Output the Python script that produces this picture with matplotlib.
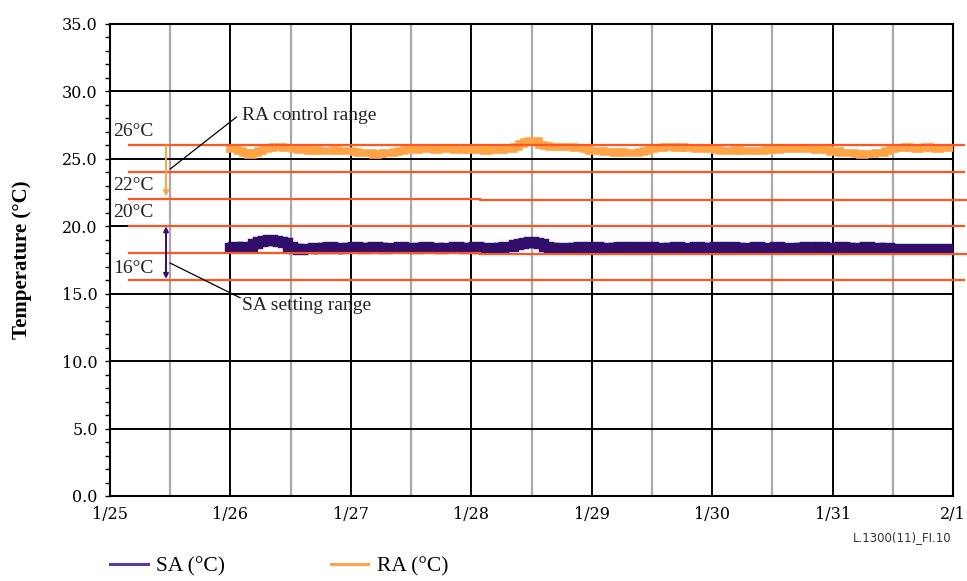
import numpy as np
import matplotlib
matplotlib.use("Agg")
import matplotlib.pyplot as plt
from matplotlib.lines import Line2D

# Day labels on the x axis (day 0 = 1/25)
day_labels = ["1/25", "1/26", "1/27", "1/28", "1/29", "1/30", "1/31", "2/1"]

# Logged temperatures, hourly from 1/26 00:00 to 2/1 00:00
sample_hours = np.arange(0, 145)

ra_temp = [
    25.70, 25.75, 25.60, 25.45, 25.30, 25.40, 25.55, 25.70, 25.80, 25.85, 25.85, 25.80,
    25.80, 25.75, 25.65, 25.70, 25.60, 25.65, 25.60, 25.55, 25.60, 25.65, 25.60, 25.60,
    25.55, 25.50, 25.45, 25.40, 25.40, 25.30, 25.35, 25.45, 25.40, 25.50, 25.60, 25.65,
    25.70, 25.65, 25.70, 25.75, 25.70, 25.65, 25.70, 25.75, 25.70, 25.65, 25.65, 25.70,
    25.65, 25.70, 25.65, 25.60, 25.65, 25.70, 25.65, 25.70, 25.70, 25.90, 26.10, 26.25,
    26.30, 26.35, 26.05, 25.95, 25.90, 25.85, 25.90, 25.85, 25.85, 25.80, 25.80, 25.75,
    25.60, 25.55, 25.55, 25.50, 25.50, 25.45, 25.50, 25.45, 25.45, 25.40, 25.50, 25.60,
    25.75, 25.80, 25.80, 25.85, 25.85, 25.80, 25.85, 25.80, 25.80, 25.75, 25.75, 25.70,
    25.70, 25.65, 25.60, 25.55, 25.60, 25.65, 25.60, 25.55, 25.60, 25.55, 25.60, 25.65,
    25.70, 25.65, 25.70, 25.75, 25.75, 25.70, 25.75, 25.70, 25.70, 25.65, 25.70, 25.65,
    25.50, 25.55, 25.45, 25.40, 25.40, 25.35, 25.30, 25.35, 25.35, 25.40, 25.45, 25.55,
    25.75, 25.80, 25.80, 25.85, 25.80, 25.75, 25.80, 25.85, 25.80, 25.75, 25.80, 25.80,
    25.80,
]

sa_temp = [
    18.40, 18.45, 18.40, 18.45, 18.50, 18.70, 18.80, 18.90, 18.95, 18.90, 18.85, 18.75,
    18.45, 18.30, 18.25, 18.30, 18.35, 18.40, 18.35, 18.40, 18.45, 18.35, 18.40, 18.35,
    18.40, 18.45, 18.40, 18.35, 18.40, 18.45, 18.40, 18.35, 18.40, 18.40, 18.45, 18.40,
    18.40, 18.35, 18.40, 18.45, 18.40, 18.40, 18.35, 18.40, 18.40, 18.45, 18.40, 18.35,
    18.40, 18.45, 18.35, 18.40, 18.40, 18.35, 18.40, 18.45, 18.45, 18.60, 18.70, 18.75,
    18.80, 18.75, 18.70, 18.45, 18.40, 18.35, 18.40, 18.40, 18.35, 18.40, 18.45, 18.40,
    18.40, 18.45, 18.40, 18.40, 18.35, 18.40, 18.45, 18.40, 18.40, 18.45, 18.40, 18.40,
    18.45, 18.40, 18.40, 18.35, 18.40, 18.45, 18.40, 18.40, 18.40, 18.45, 18.40, 18.35,
    18.40, 18.45, 18.40, 18.40, 18.45, 18.40, 18.35, 18.40, 18.40, 18.45, 18.40, 18.40,
    18.40, 18.45, 18.40, 18.40, 18.40, 18.35, 18.40, 18.45, 18.40, 18.40, 18.45, 18.40,
    18.40, 18.40, 18.45, 18.40, 18.35, 18.40, 18.40, 18.45, 18.40, 18.40, 18.35, 18.40,
    18.35, 18.30, 18.35, 18.30, 18.35, 18.30, 18.35, 18.35, 18.30, 18.35, 18.30, 18.35,
    18.35,
]

# Reference levels (°C): (value left of the step, value right of the step)
ref_levels = [(26.0, 26.0), (24.0, 24.0), (22.05, 21.93), (20.0, 20.0),
              (18.05, 17.93), (16.0, 16.0)]
ref_step_day = 3.07
ref_start_day = 0.16
ref_end_day = 7.09

SA_COLOR = "#300E6A"
RA_COLOR = "#FFA345"
REF_COLOR = "#FF5522"

W, H = 967, 581
fig = plt.figure(figsize=(W / 100, H / 100), dpi=100)
ax = fig.add_axes([110 / W, 1 - 496 / H, (953 - 110) / W, (496 - 24) / H])

days = 1 + sample_hours / 24.0

# grid
ax.set_xlim(0, 7)
ax.set_ylim(0, 35)
ax.set_xticks(range(8))
ax.set_xticklabels(day_labels)
ax.set_xticks(np.arange(0.5, 7, 1.0), minor=True)
ax.set_yticks(np.arange(0, 36, 5))
ax.set_yticklabels([f"{v:.1f}" for v in np.arange(0, 36, 5)])
ax.set_yticks(np.arange(0, 36, 1), minor=True)
ax.grid(which="major", color="black", lw=1.4, zorder=0)
ax.grid(which="minor", axis="x", color="#A8A8A8", lw=1.6, zorder=0)
ax.set_axisbelow(True)
for s in ax.spines.values():
    s.set_color("black")
    s.set_linewidth(1.5)

ax.tick_params(axis="x", which="both", length=0, pad=7)
ax.tick_params(axis="y", which="both", direction="out", length=3.8,
               width=1.0, pad=5)
for lab in ax.get_xticklabels() + ax.get_yticklabels():
    lab.set_fontfamily("DejaVu Serif")
    lab.set_fontsize(11.5)

# series
ax.plot(days, ra_temp, color=RA_COLOR, lw=5.5, drawstyle="steps-mid",
        solid_joinstyle="miter", zorder=3)
ax.plot(days, sa_temp, color=SA_COLOR, lw=7.5, drawstyle="steps-mid",
        solid_joinstyle="miter", zorder=3)

# reference levels
for left_v, right_v in ref_levels:
    if left_v == right_v:
        ax.plot([ref_start_day, ref_end_day], [left_v, left_v],
                color=REF_COLOR, lw=1.6, clip_on=False, zorder=4)
    else:
        ax.plot([ref_start_day, ref_step_day], [left_v, left_v],
                color=REF_COLOR, lw=1.6, clip_on=False, zorder=4)
        ax.plot([ref_step_day, ref_end_day + 0.04], [right_v, right_v],
                color=REF_COLOR, lw=1.6, clip_on=False, zorder=4)

# range markers
ax.annotate("", xy=(0.465, 22.2), xytext=(0.465, 26.0),
            arrowprops=dict(arrowstyle="-|>", color=RA_COLOR, lw=1.4,
                            mutation_scale=8, shrinkA=0, shrinkB=0), zorder=5)
ax.annotate("", xy=(0.465, 16.1), xytext=(0.465, 20.0),
            arrowprops=dict(arrowstyle="<|-|>", color=SA_COLOR, lw=1.4,
                            mutation_scale=7, shrinkA=0, shrinkB=0), zorder=5)

tfont = dict(family="Liberation Serif", fontsize=14, color="#222222")
for label, yv in [("26°C", 27.0), ("22°C", 23.0), ("20°C", 21.05),
                  ("16°C", 16.9)]:
    ax.text(0.03, yv, label, ha="left", va="center", zorder=6, **tfont)

ax.plot([1.05, 0.5], [28.1, 24.25], color="black", lw=0.9, zorder=6)
ax.text(1.1, 28.25, "RA control range", ha="left", va="center", zorder=6,
        **tfont)
ax.plot([0.5, 1.08], [17.27, 14.7], color="black", lw=0.9, zorder=6)
ax.text(1.1, 14.15, "SA setting range", ha="left", va="center", zorder=6,
        **tfont)

fig.text(22 / W, 0.5525, "Temperature (°C)", rotation=90, ha="center",
         va="center", family="Liberation Serif", fontweight="bold",
         fontsize=15)

fig.text(952 / W, 1 - 538 / H, "L.1300(11)_FI.10", ha="right", va="center",
         family="DejaVu Sans", fontsize=8.5, color="#333333")

handles = [Line2D([], [], color="#5A3C9C", lw=2.2),
           Line2D([], [], color=RA_COLOR, lw=2.2)]
fig.legend(handles, ["SA (°C)", "RA (°C)"], loc="center left",
           bbox_to_anchor=(110 / W, 1 - 566 / H), ncol=2, frameon=False,
           prop=dict(family="Liberation Serif", size=15.5),
           handlelength=1.75, handletextpad=0.4, columnspacing=4.9,
           borderpad=0, borderaxespad=0)

fig.savefig("out.png", dpi=100)
